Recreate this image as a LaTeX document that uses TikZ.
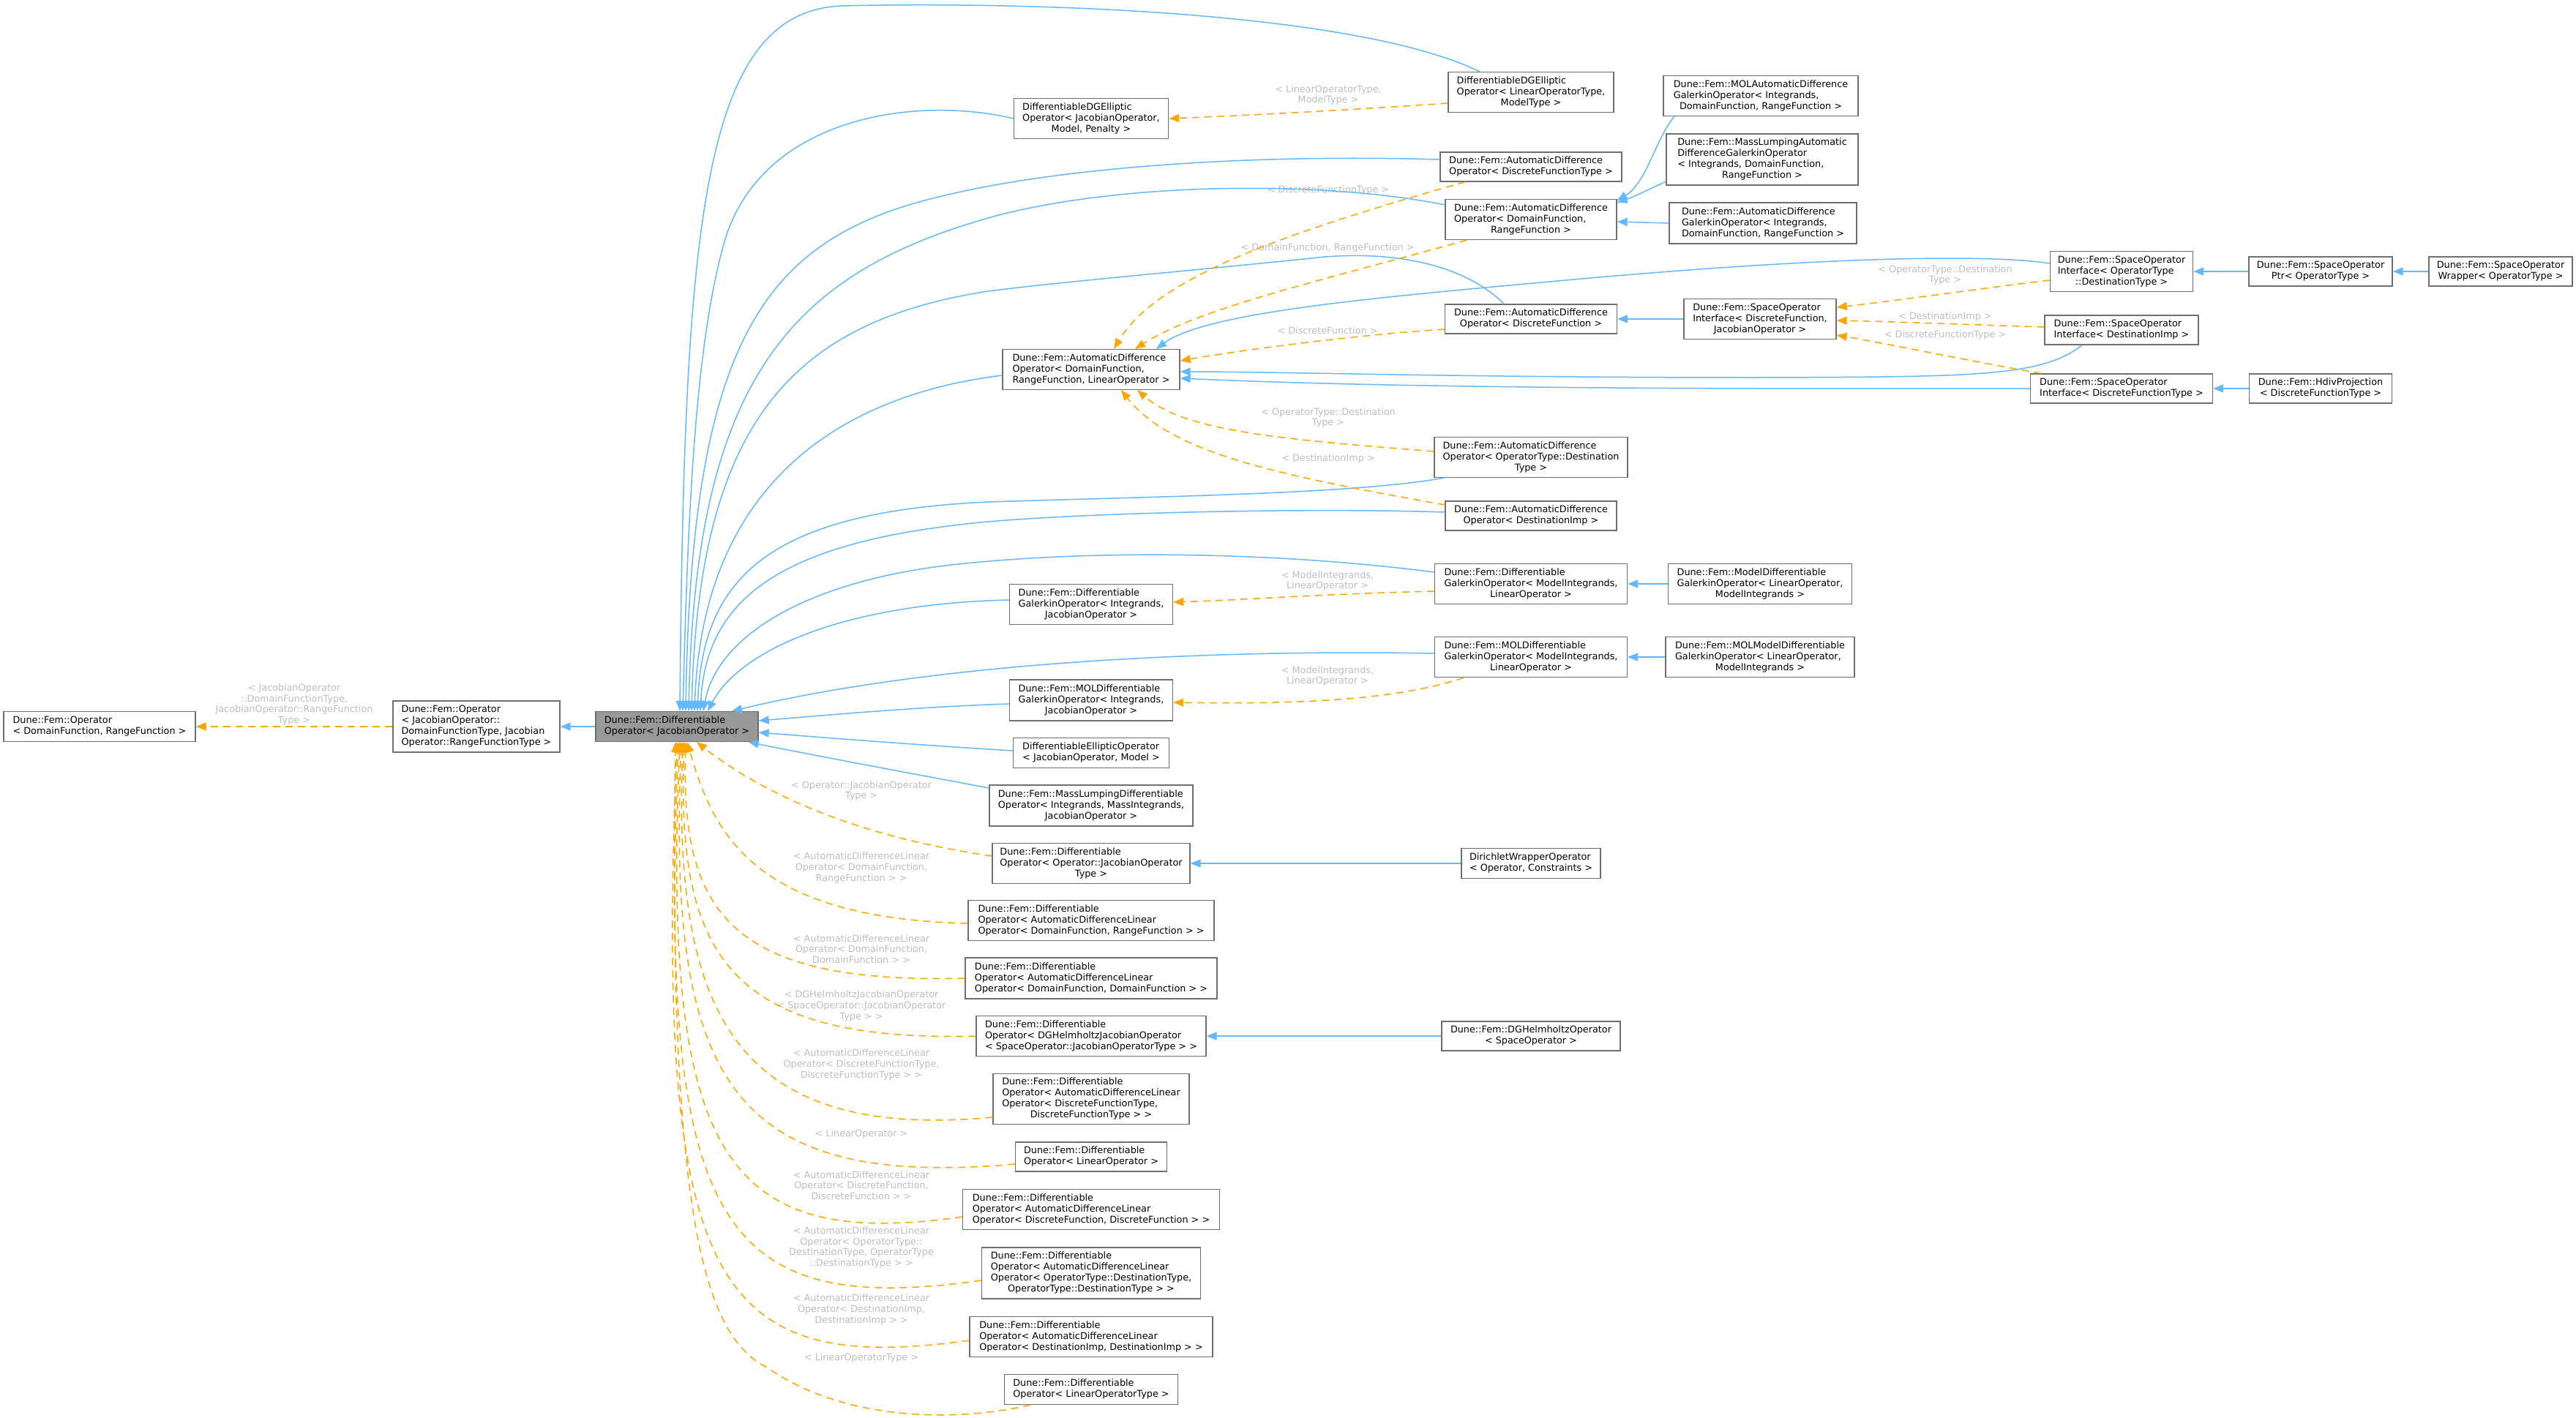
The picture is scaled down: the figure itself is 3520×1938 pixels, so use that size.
\documentclass[tikz,border=0pt]{standalone}
\usepackage{fontspec}
\setmainfont{DejaVu Sans}
\usetikzlibrary{arrows.meta}
\definecolor{inhblue}{HTML}{63B8FF}
\definecolor{tmplorange}{HTML}{FFA500}
\definecolor{lblgray}{HTML}{BEBEBE}
\definecolor{boxborder}{HTML}{6E6E6E}
\definecolor{hubfill}{HTML}{999999}
\newcommand{\dxl}[2]{\begin{tabular}{@{}l@{}}#1\\\multicolumn{1}{@{}c@{}}{#2}\end{tabular}}
\tikzset{
  box/.style={draw=boxborder, fill=white, line width=1.3pt, inner sep=0pt, font=\fontsize{12.8}{15}\selectfont},
  hubbox/.style={box, fill=hubfill},
  inh/.style={draw=inhblue, line width=1.5pt, -{Triangle[length=14pt,width=11pt]}},
  tmpl/.style={draw=tmplorange, line width=1.5pt, dash pattern=on 10pt off 7pt, -{Triangle[length=14pt,width=11pt]}},
  lbl/.style={text=lblgray, align=center, inner sep=0pt, font=\fontsize{12.8}{14.6}\selectfont}
}
\begin{document}
\begin{tikzpicture}[x=1pt,y=-1pt]
\fill[white] (0,0) rectangle (3520,1938);
\useasboundingbox (0,0) rectangle (3520,1938);
% nodes
\node[box, minimum width=262pt, minimum height=41pt] (op1) at (136,993) {\dxl{Dune::Fem::Operator}{< DomainFunction, RangeFunction >}};
\node[box, minimum width=228pt, minimum height=70pt] (op2) at (651,993) {\dxl{Dune::Fem::Operator\\< JacobianOperator::\\DomainFunctionType, Jacobian}{Operator::RangeFunctionType >}};
\node[hubbox, minimum width=222pt, minimum height=41pt] (hub) at (925,993) {\dxl{Dune::Fem::Differentiable}{Operator< JacobianOperator >}};
\node[box, minimum width=211pt, minimum height=55pt] (dgell1) at (1491,162) {\dxl{DifferentiableDGElliptic\\Operator< JacobianOperator,}{Model, Penalty >}};
\node[box, minimum width=226pt, minimum height=55pt] (dgell2) at (2092,126) {\dxl{DifferentiableDGElliptic\\Operator< LinearOperatorType,}{ModelType >}};
\node[box, minimum width=248pt, minimum height=40pt] (adodft) at (2092,228) {\dxl{Dune::Fem::AutomaticDifference}{Operator< DiscreteFunctionType >}};
\node[box, minimum width=234pt, minimum height=55pt] (adodr) at (2092,300) {\dxl{Dune::Fem::AutomaticDifference\\Operator< DomainFunction,}{RangeFunction >}};
\node[box, minimum width=266pt, minimum height=55pt] (molad) at (2406,131) {\dxl{Dune::Fem::MOLAutomaticDifference\\GalerkinOperator< Integrands,}{DomainFunction, RangeFunction >}};
\node[box, minimum width=262pt, minimum height=70pt] (mlad) at (2408,218) {\dxl{Dune::Fem::MassLumpingAutomatic\\DifferenceGalerkinOperator\\< Integrands, DomainFunction,}{RangeFunction >}};
\node[box, minimum width=256pt, minimum height=56pt] (adg) at (2409,305) {\dxl{Dune::Fem::AutomaticDifference\\GalerkinOperator< Integrands,}{DomainFunction, RangeFunction >}};
\node[box, minimum width=242pt, minimum height=55pt] (adodrl) at (1491,505) {\dxl{Dune::Fem::AutomaticDifference\\Operator< DomainFunction,}{RangeFunction, LinearOperator >}};
\node[box, minimum width=235pt, minimum height=40pt] (adodf) at (2092,436) {\dxl{Dune::Fem::AutomaticDifference}{Operator< DiscreteFunction >}};
\node[box, minimum width=208pt, minimum height=55pt] (soidfj) at (2405,436) {\dxl{Dune::Fem::SpaceOperator\\Interface< DiscreteFunction,}{JacobianOperator >}};
\node[box, minimum width=195pt, minimum height=55pt] (soiot) at (2899,371) {\dxl{Dune::Fem::SpaceOperator\\Interface< OperatorType}{::DestinationType >}};
\node[box, minimum width=196pt, minimum height=40pt] (soptr) at (3171,371) {\dxl{Dune::Fem::SpaceOperator}{Ptr< OperatorType >}};
\node[box, minimum width=196pt, minimum height=40pt] (sowrap) at (3417,371) {\dxl{Dune::Fem::SpaceOperator}{Wrapper< OperatorType >}};
\node[box, minimum width=210pt, minimum height=40pt] (soidi) at (2899,451) {\dxl{Dune::Fem::SpaceOperator}{Interface< DestinationImp >}};
\node[box, minimum width=249pt, minimum height=40pt] (soidft) at (2899,531) {\dxl{Dune::Fem::SpaceOperator}{Interface< DiscreteFunctionType >}};
\node[box, minimum width=195pt, minimum height=40pt] (hdiv) at (3171,531) {\dxl{Dune::Fem::HdivProjection}{< DiscreteFunctionType >}};
\node[box, minimum width=264pt, minimum height=55pt] (adoot) at (2092,625) {\dxl{Dune::Fem::AutomaticDifference\\Operator< OperatorType::Destination}{Type >}};
\node[box, minimum width=234pt, minimum height=40pt] (adodi) at (2092,705) {\dxl{Dune::Fem::AutomaticDifference}{Operator< DestinationImp >}};
\node[box, minimum width=263pt, minimum height=55pt] (dgomi) at (2092,798) {\dxl{Dune::Fem::Differentiable\\GalerkinOperator< ModelIntegrands,}{LinearOperator >}};
\node[box, minimum width=251pt, minimum height=55pt] (mdgo) at (2405,798) {\dxl{Dune::Fem::ModelDifferentiable\\GalerkinOperator< LinearOperator,}{ModelIntegrands >}};
\node[box, minimum width=223pt, minimum height=55pt] (dgoi) at (1491,826) {\dxl{Dune::Fem::Differentiable\\GalerkinOperator< Integrands,}{JacobianOperator >}};
\node[box, minimum width=263pt, minimum height=55pt] (moldgomi) at (2092,898) {\dxl{Dune::Fem::MOLDifferentiable\\GalerkinOperator< ModelIntegrands,}{LinearOperator >}};
\node[box, minimum width=258pt, minimum height=55pt] (molmdgo) at (2405,898) {\dxl{Dune::Fem::MOLModelDifferentiable\\GalerkinOperator< LinearOperator,}{ModelIntegrands >}};
\node[box, minimum width=223pt, minimum height=56pt] (moldgoi) at (1491,957) {\dxl{Dune::Fem::MOLDifferentiable\\GalerkinOperator< Integrands,}{JacobianOperator >}};
\node[box, minimum width=213pt, minimum height=41pt] (dellop) at (1491,1029) {\dxl{DifferentiableEllipticOperator}{< JacobianOperator, Model >}};
\node[box, minimum width=278pt, minimum height=56pt] (mldo) at (1491,1101) {\dxl{Dune::Fem::MassLumpingDifferentiable\\Operator< Integrands, MassIntegrands,}{JacobianOperator >}};
\node[box, minimum width=270pt, minimum height=55pt] (dooj) at (1491,1180) {\dxl{Dune::Fem::Differentiable\\Operator< Operator::JacobianOperator}{Type >}};
\node[box, minimum width=190pt, minimum height=41pt] (dwo) at (2092,1180) {\dxl{DirichletWrapperOperator}{< Operator, Constraints >}};
\node[box, minimum width=336pt, minimum height=55pt] (doadldr) at (1491,1258) {\dxl{Dune::Fem::Differentiable\\Operator< AutomaticDifferenceLinear}{Operator< DomainFunction, RangeFunction > >}};
\node[box, minimum width=344pt, minimum height=56pt] (doadldd) at (1491,1337) {\dxl{Dune::Fem::Differentiable\\Operator< AutomaticDifferenceLinear}{Operator< DomainFunction, DomainFunction > >}};
\node[box, minimum width=314pt, minimum height=55pt] (dodgh) at (1491,1416) {\dxl{Dune::Fem::Differentiable\\Operator< DGHelmholtzJacobianOperator}{< SpaceOperator::JacobianOperatorType > >}};
\node[box, minimum width=244pt, minimum height=40pt] (dgh) at (2092,1416) {\dxl{Dune::Fem::DGHelmholtzOperator}{< SpaceOperator >}};
\node[box, minimum width=268pt, minimum height=69pt] (doadldft) at (1491,1502) {\dxl{Dune::Fem::Differentiable\\Operator< AutomaticDifferenceLinear\\Operator< DiscreteFunctionType,}{DiscreteFunctionType > >}};
\node[box, minimum width=207pt, minimum height=40pt] (dolo) at (1491,1581) {\dxl{Dune::Fem::Differentiable}{Operator< LinearOperator >}};
\node[box, minimum width=351pt, minimum height=55pt] (doadldf) at (1491,1653) {\dxl{Dune::Fem::Differentiable\\Operator< AutomaticDifferenceLinear}{Operator< DiscreteFunction, DiscreteFunction > >}};
\node[box, minimum width=299pt, minimum height=70pt] (doadlot) at (1491,1740) {\dxl{Dune::Fem::Differentiable\\Operator< AutomaticDifferenceLinear\\Operator< OperatorType::DestinationType,}{OperatorType::DestinationType > >}};
\node[box, minimum width=332pt, minimum height=55pt] (doadldi) at (1491,1827) {\dxl{Dune::Fem::Differentiable\\Operator< AutomaticDifferenceLinear}{Operator< DestinationImp, DestinationImp > >}};
\node[box, minimum width=237pt, minimum height=41pt] (dolot) at (1491,1899) {\dxl{Dune::Fem::Differentiable}{Operator< LinearOperatorType >}};

% labels
\node[lbl] (lop) at (402,963) {< JacobianOperator\\::DomainFunctionType,\\JacobianOperator::RangeFunction\\Type >};
\node[lbl] (ldgell) at (1815,130) {< LinearOperatorType,\\ModelType >};
\node[lbl] (ldft) at (1815,260) {< DiscreteFunctionType >};
\node[lbl] (ldr) at (1814,339) {< DomainFunction, RangeFunction >};
\node[lbl] (ldf) at (1814,452) {< DiscreteFunction >};
\node[lbl] (lot) at (1815,571) {< OperatorType::Destination\\Type >};
\node[lbl] (ldi) at (1815,627) {< DestinationImp >};
\node[lbl] (lsoot) at (2658,376) {< OperatorType::Destination\\Type >};
\node[lbl] (lsodi) at (2658,433) {< DestinationImp >};
\node[lbl] (lsodft) at (2658,458) {< DiscreteFunctionType >};
\node[lbl] (lmia) at (1814,794) {< ModelIntegrands,\\LinearOperator >};
\node[lbl] (lmib) at (1814,924) {< ModelIntegrands,\\LinearOperator >};
\node[lbl] (lha) at (1177,1081) {< Operator::JacobianOperator\\Type >};
\node[lbl] (lhb) at (1177,1186) {< AutomaticDifferenceLinear\\Operator< DomainFunction,\\RangeFunction > >};
\node[lbl] (lhc) at (1177,1297) {< AutomaticDifferenceLinear\\Operator< DomainFunction,\\DomainFunction > >};
\node[lbl] (lhd) at (1177,1375) {< DGHelmholtzJacobianOperator\\< SpaceOperator::JacobianOperator\\Type > >};
\node[lbl] (lhe) at (1177,1455) {< AutomaticDifferenceLinear\\Operator< DiscreteFunctionType,\\DiscreteFunctionType > >};
\node[lbl] (lhf) at (1177,1550) {< LinearOperator >};
\node[lbl] (lhg) at (1177,1620) {< AutomaticDifferenceLinear\\Operator< DiscreteFunction,\\DiscreteFunction > >};
\node[lbl] (lhh) at (1177,1705) {< AutomaticDifferenceLinear\\Operator< OperatorType::\\DestinationType, OperatorType\\::DestinationType > >};
\node[lbl] (lhi) at (1177,1790) {< AutomaticDifferenceLinear\\Operator< DestinationImp,\\DestinationImp > >};
\node[lbl] (lhj) at (1177,1856) {< LinearOperatorType >};

% blue inheritance edges into hub
\draw[inh] ([xshift=-70pt]dgell2.north) .. controls (1850,15) and (1400,2) .. (1150,8) .. controls (960,16) and (935,300) .. ([xshift=4pt]hub.north);
\draw[inh] (dgell1.west) .. controls (1250,130) and (1040,160) .. (990,330) .. controls (950,470) and (940,700) .. ([xshift=8pt]hub.north);
\draw[inh] ([yshift=10pt]adodft.west) .. controls (1700,210) and (1450,230) .. (1300,265) .. controls (1050,320) and (945,450) .. ([xshift=12pt]hub.north);
\draw[inh] ([yshift=20pt]adodr.west) .. controls (1800,245) and (1520,250) .. (1350,298) .. controls (1080,375) and (950,520) .. ([xshift=16pt]hub.north);
\draw[inh] ([xshift=-37pt]adodf.north) .. controls (2000,360) and (1900,342) .. (1800,352) .. controls (1650,368) and (1450,385) .. (1350,398) .. controls (1080,440) and (955,580) .. ([xshift=20pt]hub.north);
\draw[inh] ([yshift=-8pt]adodrl.west) .. controls (1150,540) and (960,660) .. ([xshift=24pt]hub.north);
\draw[inh] ([xshift=-119pt]adoot.south) .. controls (1850,675) and (1600,678) .. (1350,686) .. controls (1050,700) and (960,790) .. ([xshift=28pt]hub.north);
\draw[inh] ([yshift=5pt]adodi.west) .. controls (1800,694) and (1500,700) .. (1350,713) .. controls (1080,738) and (965,810) .. ([xshift=32pt]hub.north);
\draw[inh] ([yshift=16pt]dgomi.west) .. controls (1750,755) and (1500,750) .. (1300,772) .. controls (1100,795) and (980,870) .. ([xshift=36pt]hub.north);
\draw[inh] ([yshift=6pt]dgoi.west) .. controls (1150,825) and (1010,890) .. ([xshift=42pt]hub.north);
\draw[inh] ([yshift=5pt]moldgomi.west) .. controls (1700,888) and (1300,900) .. ([xshift=75pt]hub.north);
\draw[inh] ([yshift=-5pt]moldgoi.west) .. controls (1250,966) and (1100,980) .. ([yshift=8pt]hub.east);
\draw[inh] ([yshift=3pt]dellop.west) .. controls (1250,1018) and (1100,1006) .. ([yshift=-8pt]hub.east);
\draw[inh] ([yshift=24pt]mldo.west) .. controls (1250,1058) and (1100,1030) .. ([xshift=-14pt]hub.south east);
\draw[inh] (hub.west) -- (op2.east);
\draw[tmpl] (op2.west) -- (op1.east);

% blue inheritance edges, upper right
\draw[inh] ([yshift=11pt]soiot.west) .. controls (2700,345) and (2450,355) .. (2150,382) .. controls (1900,405) and (1650,425) .. ([xshift=89pt]adodrl.north);
\draw[inh] ([xshift=-54pt]soidi.south) .. controls (2790,515) and (2700,515) .. (2400,516) .. controls (2000,516) and (1750,508) .. ([yshift=-3pt]adodrl.east);
\draw[inh] (soidft.west) .. controls (2300,532) and (1900,530) .. ([yshift=-12pt]adodrl.east);
\draw[inh] (soidfj.west) -- (adodf.east);
\draw[inh] (soptr.west) -- (soiot.east);
\draw[inh] (sowrap.west) -- (soptr.east);
\draw[inh] (hdiv.west) -- (soidft.east);
\draw[inh] ([xshift=-118pt]molad.south) .. controls (2262,190) and (2250,250) .. ([yshift=26pt]adodr.east);
\draw[inh] ([yshift=-30pt]mlad.west) .. controls (2255,258) and (2235,268) .. ([yshift=23pt]adodr.east);
\draw[inh] (adg.west) -- ([yshift=-3pt]adodr.east);
\draw[inh] (mdgo.west) -- (dgomi.east);
\draw[inh] (molmdgo.west) -- (moldgomi.east);
\draw[inh] (dwo.west) -- (dooj.east);
\draw[inh] (dgh.west) -- (dodgh.east);

% orange template edges
\draw[tmpl] ([yshift=-15pt]dgell2.west) .. controls (1850,150) and (1700,158) .. (dgell1.east);
\draw[tmpl] ([xshift=-90pt]adodft.south) .. controls (1750,320) and (1580,380) .. ([xshift=31pt]adodrl.north);
\draw[tmpl] ([xshift=-88pt]adodr.south) .. controls (1820,380) and (1640,420) .. ([xshift=60pt]adodrl.north);
\draw[tmpl] ([yshift=-14pt]adodf.west) .. controls (1850,458) and (1700,478) .. ([yshift=12pt]adodrl.east);
\draw[tmpl] ([yshift=8pt]adoot.west) .. controls (1750,600) and (1620,590) .. ([xshift=63pt]adodrl.south);
\draw[tmpl] ([yshift=15pt]adodi.west) .. controls (1750,650) and (1600,620) .. ([xshift=41pt]adodrl.south);
\draw[tmpl] ([yshift=-12pt]soiot.west) .. controls (2700,395) and (2600,410) .. ([yshift=16pt]soidfj.east);
\draw[tmpl] ([yshift=4pt]soidi.west) .. controls (2700,444) and (2600,440) .. ([yshift=-2pt]soidfj.east);
\draw[tmpl] ([xshift=-110pt]soidft.north) .. controls (2700,495) and (2580,470) .. ([yshift=-22pt]soidfj.east);
\draw[tmpl] ([yshift=-10pt]dgomi.west) .. controls (1800,812) and (1700,820) .. ([yshift=3pt]dgoi.east);
\draw[tmpl] ([xshift=-92pt]moldgomi.south) .. controls (1900,960) and (1750,962) .. ([yshift=-3pt]moldgoi.east);

% orange template edges into hub
\draw[tmpl] ([yshift=10pt]dooj.west) .. controls (1150,1140) and (1030,1075) .. ([xshift=27pt]hub.south);
\draw[tmpl] ([yshift=-4pt]doadldr.west) .. controls (1030,1255) and (975,1140) .. ([xshift=14pt]hub.south);
\draw[tmpl] (doadldd.west) .. controls (1000,1345) and (930,1250) .. ([xshift=12pt]hub.south);
\draw[tmpl] (dodgh.west) .. controls (990,1425) and (925,1300) .. ([xshift=10pt]hub.south);
\draw[tmpl] ([yshift=-25pt]doadldft.west) .. controls (1000,1560) and (920,1380) .. ([xshift=8pt]hub.south);
\draw[tmpl] ([yshift=-10pt]dolo.west) .. controls (1000,1625) and (912,1480) .. ([xshift=6pt]hub.south);
\draw[tmpl] ([yshift=-10pt]doadldf.west) .. controls (990,1710) and (905,1580) .. ([xshift=4pt]hub.south);
\draw[tmpl] ([yshift=-10pt]doadlot.west) .. controls (985,1800) and (900,1680) .. ([xshift=2pt]hub.south);
\draw[tmpl] ([yshift=-5pt]doadldi.west) .. controls (975,1880) and (895,1760) .. ([xshift=0pt]hub.south);
\draw[tmpl] ([xshift=-83pt]dolot.south) .. controls (1300,1945) and (1150,1940) .. (1050,1870) .. controls (970,1830) and (912,1700) .. ([xshift=-2pt]hub.south);
\end{tikzpicture}
\end{document}
